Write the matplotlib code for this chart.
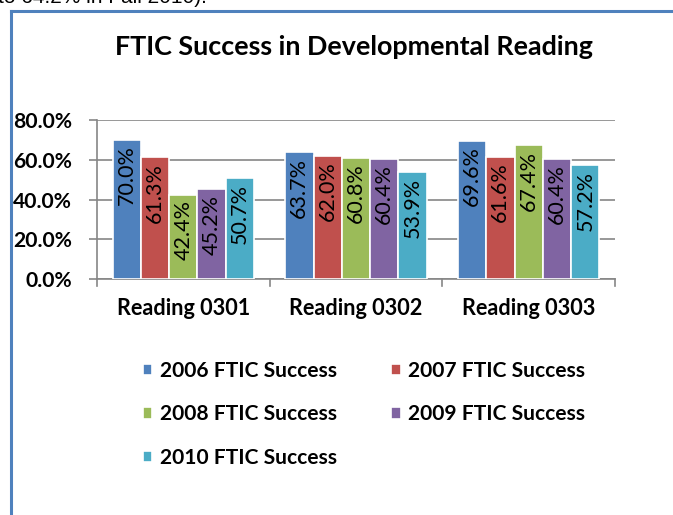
import numpy as np
import matplotlib
matplotlib.use("Agg")
import matplotlib.pyplot as plt
from matplotlib.lines import Line2D

# -------------------- data --------------------
courses = ['Reading 0301', 'Reading 0302', 'Reading 0303']
series = ['2006 FTIC Success', '2007 FTIC Success', '2008 FTIC Success',
          '2009 FTIC Success', '2010 FTIC Success']
s2006 = [70.0, 63.7, 69.6]
s2007 = [61.3, 62.0, 61.6]
s2008 = [42.4, 60.8, 67.4]
s2009 = [45.2, 60.4, 60.4]
s2010 = [50.7, 53.9, 57.2]
yticks = [0, 20, 40, 60, 80]
colors = ['#4F81BD', '#C0504D', '#9BBB59', '#8064A2', '#4BACC6']

plt.rcParams['font.family'] = ['Lato', 'DejaVu Sans']

fig = plt.figure(figsize=(6.73, 5.15), dpi=100)
ax = fig.add_axes([97/673, 1 - 279/515, (615 - 97)/673, (279 - 120)/515])

grid_c = '#868686'
x = np.arange(len(courses))
w = 0.164
values = [s2006, s2007, s2008, s2009, s2010]
handles = []
for i, (name, vals) in enumerate(zip(series, values)):
    pos = x + (i - 2) * w
    bars = ax.bar(pos, vals, width=w, color=colors[i], edgecolor='white',
                  linewidth=1.2, label=name, zorder=3)
    handles.append(bars)
    # data labels, inside end, rotated
    for p, v in zip(pos, vals):
        ax.annotate(f"{v:.1f}%", (p, v), xytext=(0, -4), textcoords='offset points',
                    rotation=90, ha='center', va='top', fontsize=15.5,
                    color='black', zorder=4)

ax.set_xlim(-0.5, 2.5)
ax.set_ylim(0, 80)
ax.set_yticks(yticks)
ax.set_yticklabels([f"{t:.1f}%" for t in yticks], fontweight='bold', fontsize=15.2)
ax.yaxis.grid(True, color=grid_c, linewidth=1.2, zorder=0)
ax.set_axisbelow(True)

# category labels + boundary ticks
ax.set_xticks(x)
ax.set_xticklabels(courses, fontweight='bold', fontsize=15.6)
ax.tick_params(axis='x', length=0, pad=14)
for b in [-0.5, 0.5, 1.5, 2.5]:
    ax.plot([b, b], [0, -3.5], color=grid_c, lw=1.2, clip_on=False, zorder=2)
ax.tick_params(axis='y', length=6, width=1.2, color=grid_c, pad=12)

for s in ['top', 'right']:
    ax.spines[s].set_visible(False)
ax.spines['left'].set_color(grid_c)
ax.spines['left'].set_linewidth(1.2)
ax.spines['bottom'].set_color(grid_c)
ax.spines['bottom'].set_linewidth(1.2)

fig.text(354/673, 1 - 47/515, 'FTIC Success in Developmental Reading',
         ha='center', va='center', fontsize=19.4, fontweight='bold')

# legend, row-wise order like Excel
order = [0, 2, 4, 1, 3]
leg = fig.legend([handles[k] for k in order], [series[k] for k in order],
                 ncol=2, loc='upper left', bbox_to_anchor=(124/673, 1 - 342/515),
                 frameon=False, prop={'weight': 'bold', 'size': 15.1},
                 handlelength=0.45, handleheight=0.45, handletextpad=0.35,
                 columnspacing=2.6, labelspacing=1.12)

# frame lines of the surrounding document box and the cut-off sentence above
fig.add_artist(Line2D([11/673, 11/673], [0, 1 - 11/515], color='#4F81BD', lw=2.2))
fig.add_artist(Line2D([11/673, 1], [1 - 11/515, 1 - 11/515], color='#4F81BD', lw=2.2))
fig.text(-2/673, 1 - 3/515, 'to 64.2% in Fall 2010).', ha='left', va='baseline',
         fontsize=15, family='Liberation Sans')

fig.savefig('out.png', dpi=100)
